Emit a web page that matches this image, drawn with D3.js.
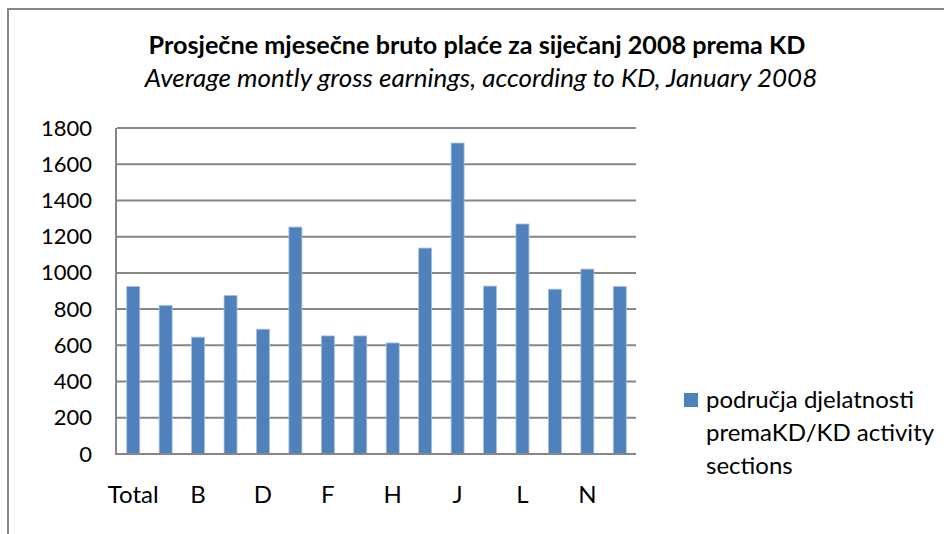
<!DOCTYPE html>
<html>
<head>
<meta charset="utf-8">
<script src="https://cdn.jsdelivr.net/npm/d3@7"></script>
<style>
  body { margin: 0; background: #fff; }
  svg { display: block; font-family: Lato, "Open Sans", sans-serif; }
</style>
</head>
<body>
<svg class="chart"></svg>
<script>
var categories = ["Total", "A", "B", "C", "D", "E", "F", "G", "H", "I", "J", "K", "L", "M", "N", "O"];
var values = [925, 820, 645, 875, 689, 1253, 652, 652, 613, 1137, 1717, 927, 1270, 910, 1021, 925];
var yTicks = [0, 200, 400, 600, 800, 1000, 1200, 1400, 1600, 1800];
var shownLabels = ["Total", "B", "D", "F", "H", "J", "L", "N"];
var titleText = "Prosječne mjesečne bruto plaće za siječanj 2008 prema KD";
var subtitleText = "Average montly gross earnings, according to KD, January 2008";
var legendLines = ["područja djelatnosti", "premaKD/KD activity", "sections"];

function show() {
    'use strict';
    var W = 944, H = 534;
    var margin = {top: 128, left: 117, right: W - 636, bottom: H - 454},
        width = W - margin.left - margin.right,
        height = H - margin.top - margin.bottom;

    var svg = d3.select(".chart").attr("width", W).attr("height", H);

    // chart area frame (runs off the window on right and bottom)
    svg.append("rect")
        .attr("x", 8).attr("y", 9)
        .attr("width", W).attr("height", H)
        .attr("fill", "none").attr("stroke", "#868686").attr("stroke-width", 2);

    svg.append("text")
        .attr("x", 477).attr("y", 54)
        .attr("text-anchor", "middle")
        .style("font-size", "25.2px").style("font-weight", "bold")
        .text(titleText);
    svg.append("text")
        .attr("x", 481).attr("y", 87)
        .attr("text-anchor", "middle")
        .style("font-size", "26px").style("font-style", "italic")
        .text(subtitleText);

    var g = svg.append("g")
        .attr("transform", "translate(" + margin.left + "," + margin.top + ")");

    var x = d3.scaleBand().domain(categories).range([0, width]).paddingInner(0.6).paddingOuter(0.3);
    var y = d3.scaleLinear().domain([0, 1800]).range([height, 0]);

    // gridlines
    g.selectAll(".grid").data(yTicks.slice(1)).enter().append("line")
        .attr("x1", 0).attr("x2", width)
        .attr("y1", function(d) { return y(d); })
        .attr("y2", function(d) { return y(d); })
        .attr("stroke", "#868686").attr("stroke-width", 2);

    // y axis labels
    var yAxis = d3.axisLeft(y).tickValues(yTicks).tickFormat(d3.format("d")).tickSize(0).tickPadding(25);
    var ya = g.append("g").call(yAxis);
    ya.select(".domain").remove();
    ya.selectAll("text").style("font-size", "22px").style("font-family", "Lato, sans-serif").attr("fill", "#000");

    // bars
    g.selectAll(".bar").data(values).enter().append("rect")
        .attr("x", function(d, i) { return x(categories[i]); })
        .attr("width", x.bandwidth())
        .attr("y", function(d) { return y(d); })
        .attr("height", function(d) { return height - y(d); })
        .attr("fill", "#4F81BD")
        .attr("stroke", "#A7C0DE").attr("stroke-width", 0.8);

    // axis lines
    g.append("line").attr("x1", -1).attr("x2", -1).attr("y1", 0).attr("y2", height + 1)
        .attr("stroke", "#868686").attr("stroke-width", 2);
    g.append("line").attr("x1", -1).attr("x2", width).attr("y1", height).attr("y2", height)
        .attr("stroke", "#868686").attr("stroke-width", 2);

    // x labels (every second category)
    var xAxis = d3.axisBottom(x).tickValues(shownLabels).tickSize(0).tickPadding(32);
    var xa = g.append("g").attr("transform", "translate(0," + height + ")").call(xAxis);
    xa.select(".domain").remove();
    xa.selectAll("text").style("font-size", "24px").style("font-family", "Lato, sans-serif").attr("fill", "#000");

    // legend
    var lg = svg.append("g").attr("transform", "translate(684,393)");
    lg.append("rect").attr("width", 14).attr("height", 14).attr("fill", "#4F81BD");
    lg.selectAll("text").data(legendLines).enter().append("text")
        .attr("x", 22)
        .attr("y", function(d, i) { return 15 + i * 33; })
        .style("font-size", "24px")
        .text(function(d) { return d; });
}
show();
</script>
</body>
</html>
